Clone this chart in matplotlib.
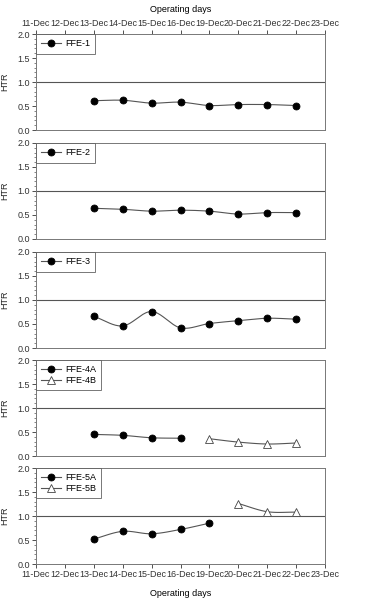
import numpy as np
import matplotlib
matplotlib.use("Agg")
import matplotlib.pyplot as plt
from matplotlib.ticker import MultipleLocator

plt.rcParams['font.family'] = ['Liberation Sans', 'DejaVu Sans']

days = ['11-Dec', '12-Dec', '13-Dec', '14-Dec', '15-Dec', '16-Dec',
        '19-Dec', '20-Dec', '21-Dec', '22-Dec', '23-Dec']

ffe1_days = ['13-Dec', '14-Dec', '15-Dec', '16-Dec', '19-Dec', '20-Dec', '21-Dec', '22-Dec']
ffe1 = [0.61, 0.62, 0.56, 0.58, 0.51, 0.53, 0.53, 0.51]

ffe2_days = ['13-Dec', '14-Dec', '15-Dec', '16-Dec', '19-Dec', '20-Dec', '21-Dec', '22-Dec']
ffe2 = [0.64, 0.62, 0.58, 0.60, 0.58, 0.52, 0.55, 0.55]

ffe3_days = ['13-Dec', '14-Dec', '15-Dec', '16-Dec', '19-Dec', '20-Dec', '21-Dec', '22-Dec']
ffe3 = [0.66, 0.46, 0.76, 0.42, 0.51, 0.57, 0.62, 0.60]

ffe4a_days = ['13-Dec', '14-Dec', '15-Dec', '16-Dec']
ffe4a = [0.45, 0.43, 0.38, 0.37]
ffe4b_days = ['19-Dec', '20-Dec', '21-Dec', '22-Dec']
ffe4b = [0.36, 0.29, 0.25, 0.27]

ffe5a_days = ['13-Dec', '14-Dec', '15-Dec', '16-Dec', '19-Dec']
ffe5a = [0.52, 0.68, 0.63, 0.72, 0.85]
ffe5b_days = ['20-Dec', '21-Dec', '22-Dec']
ffe5b = [1.26, 1.09, 1.08]

panels = [
    [('FFE-1', ffe1_days, ffe1, 'o', 'black')],
    [('FFE-2', ffe2_days, ffe2, 'o', 'black')],
    [('FFE-3', ffe3_days, ffe3, 'o', 'black')],
    [('FFE-4A', ffe4a_days, ffe4a, 'o', 'black'), ('FFE-4B', ffe4b_days, ffe4b, '^', 'white')],
    [('FFE-5A', ffe5a_days, ffe5a, 'o', 'black'), ('FFE-5B', ffe5b_days, ffe5b, '^', 'white')],
]


def catmull_rom(x, y, n=20):
    x = np.asarray(x, float)
    y = np.asarray(y, float)
    if len(x) < 3:
        return x, y
    px = np.concatenate([[2 * x[0] - x[1]], x, [2 * x[-1] - x[-2]]])
    py = np.concatenate([[2 * y[0] - y[1]], y, [2 * y[-1] - y[-2]]])
    xs, ys = [], []
    t = np.linspace(0, 1, n, endpoint=False)
    for i in range(1, len(px) - 2):
        for arr, out in ((px, xs), (py, ys)):
            p0, p1, p2, p3 = arr[i - 1], arr[i], arr[i + 1], arr[i + 2]
            out.append(0.5 * (2 * p1 + (-p0 + p2) * t + (2 * p0 - 5 * p1 + 4 * p2 - p3) * t ** 2
                              + (-p0 + 3 * p1 - 3 * p2 + p3) * t ** 3))
    xs = np.concatenate(xs + [[x[-1]]])
    ys = np.concatenate(ys + [[y[-1]]])
    return xs, ys


W, H = 369, 600
fig = plt.figure(figsize=(W / 100, H / 100), dpi=100)
left, right = 36, 325
tops = [34, 143, 252, 360, 468]
ph = 96
fs = 6.5
idx = {d: i for i, d in enumerate(days)}

axes = []
for k, series in enumerate(panels):
    top = tops[k]
    ax = fig.add_axes([left / W, 1 - (top + ph) / H, (right - left) / W, ph / H])
    axes.append(ax)
    handles = []
    for name, dd, vals, mk, fc in series:
        xs = [idx[d] for d in dd]
        sx, sy = catmull_rom(xs, vals)
        ax.plot(sx, sy, color='#555555', lw=0.8, zorder=2)
        ax.plot(xs, vals, linestyle='none', marker=mk, ms=5 if mk == 'o' else 5.5,
                mfc=fc, mec='black' if fc == 'black' else '#444444', mew=0.6, zorder=3)
        h, = ax.plot([], [], color='#555555', lw=0.8, marker=mk, ms=5 if mk == 'o' else 5.5,
                     mfc=fc, mec='black' if fc == 'black' else '#444444', mew=0.6)
        handles.append((h, name))
    ax.axhline(1.0, color='#555555', lw=0.8, zorder=1)
    ax.set_xlim(0, len(days) - 1)
    ax.set_ylim(0, 2.0)
    ax.yaxis.set_major_locator(MultipleLocator(0.5))
    ax.yaxis.set_minor_locator(MultipleLocator(0.1))
    ax.set_yticklabels([f'{v:.1f}' for v in ax.get_yticks()], fontsize=fs)
    ax.tick_params(axis='y', which='major', direction='out', length=3, width=0.6,
                   colors='#333333', pad=1.5)
    ax.tick_params(axis='y', which='minor', direction='out', length=1.8, width=0.5, colors='#555555')
    ax.set_ylabel('HTR', fontsize=fs, color='#222222', labelpad=6)
    for s in ax.spines.values():
        s.set_color('#777777')
        s.set_linewidth(0.7)
    ax.set_xticks(range(len(days)))
    if k == 0:
        ax.xaxis.tick_top()
        ax.set_xticklabels(days, fontsize=fs)
        ax.tick_params(axis='x', direction='out', length=3, width=0.6, colors='#333333', pad=1.5)
        ax.xaxis.set_label_position('top')
        ax.set_xlabel('Operating days', fontsize=fs, labelpad=5)
    elif k == len(panels) - 1:
        ax.set_xticklabels(days, fontsize=fs)
        ax.tick_params(axis='x', direction='out', length=3, width=0.6, colors='#333333', pad=1.5)
        ax.set_xlabel('Operating days', fontsize=fs, labelpad=7)
    else:
        ax.tick_params(axis='x', length=0, labelbottom=False)
    leg = ax.legend([h for h, _ in handles], [n for _, n in handles], loc='upper left',
                    bbox_to_anchor=(0, 1), borderaxespad=0, fontsize=fs, frameon=True,
                    fancybox=False, handlelength=2.2, handletextpad=0.4, labelspacing=0.15,
                    borderpad=0.6)
    leg.get_frame().set_edgecolor('#555555')
    leg.get_frame().set_linewidth(0.7)

fig.savefig('out.png', dpi=100)
